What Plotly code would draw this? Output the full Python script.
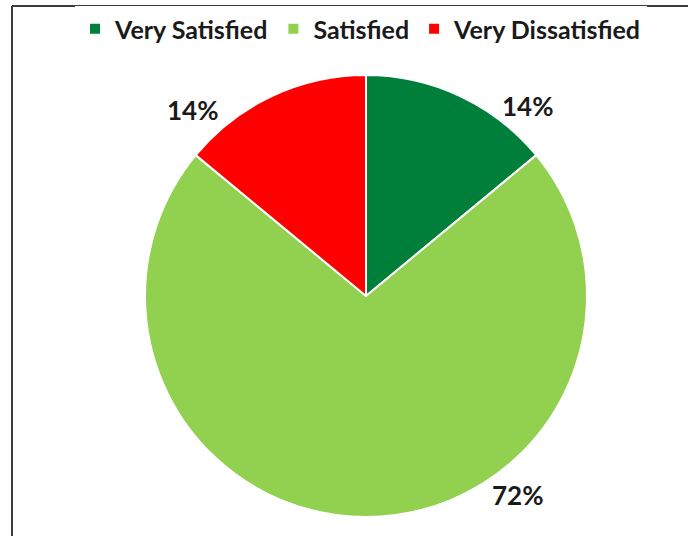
import plotly.graph_objects as go

# Survey satisfaction breakdown
categories = ["Very Satisfied", "Satisfied", "Very Dissatisfied"]
shares = [14, 72, 14]
colors = ["#007F3A", "#92D050", "#FF0000"]

W, H = 688, 536
FONT = "Lato, 'Open Sans', sans-serif"

# pie centre and radius in pixels
cx, cy, r = 366, 296, 221

fig = go.Figure(
    go.Pie(
        labels=categories,
        values=shares,
        sort=False,
        direction="clockwise",
        rotation=0,
        marker=dict(colors=colors, line=dict(color="white", width=2)),
        textinfo="none",
        hoverinfo="label+percent",
        domain=dict(
            x=[(cx - r) / W, (cx + r) / W],
            y=[1 - (cy + r) / H, 1 - (cy - r) / H],
        ),
    )
)

# percentage labels placed beside each slice
label_pos = {
    "Very Satisfied": (527, 106),
    "Satisfied": (517, 495),
    "Very Dissatisfied": (192, 110),
}
total = sum(shares)
for cat, val in zip(categories, shares):
    px, py = label_pos[cat]
    fig.add_annotation(
        x=px / W, y=1 - py / H, xref="paper", yref="paper",
        text=f"{round(100 * val / total)}%", showarrow=False,
        font=dict(family=FONT, size=26, color="#1A1A1A", weight="bold"),
        xanchor="center", yanchor="middle",
    )

# chart frame (top and left edges)
frame = dict(color="#3C3C3C", width=2)
fig.add_shape(type="line", xref="paper", yref="paper",
              x0=12 / W, x1=1.2, y0=1 - 6 / H, y1=1 - 6 / H, line=frame)
fig.add_shape(type="line", xref="paper", yref="paper",
              x0=12 / W, x1=12 / W, y0=1 - 6 / H, y1=-0.2, line=frame)

fig.update_layout(
    width=W, height=H,
    margin=dict(l=0, r=0, t=0, b=0),
    paper_bgcolor="white",
    plot_bgcolor="white",
    showlegend=True,
    legend=dict(
        orientation="h",
        x=361 / W, xanchor="center",
        y=1 - 29 / H, yanchor="middle",
        font=dict(family=FONT, size=25, color="#1A1A1A", weight="bold"),
        itemclick=False,
    ),
)

fig.write_html("out.html")
